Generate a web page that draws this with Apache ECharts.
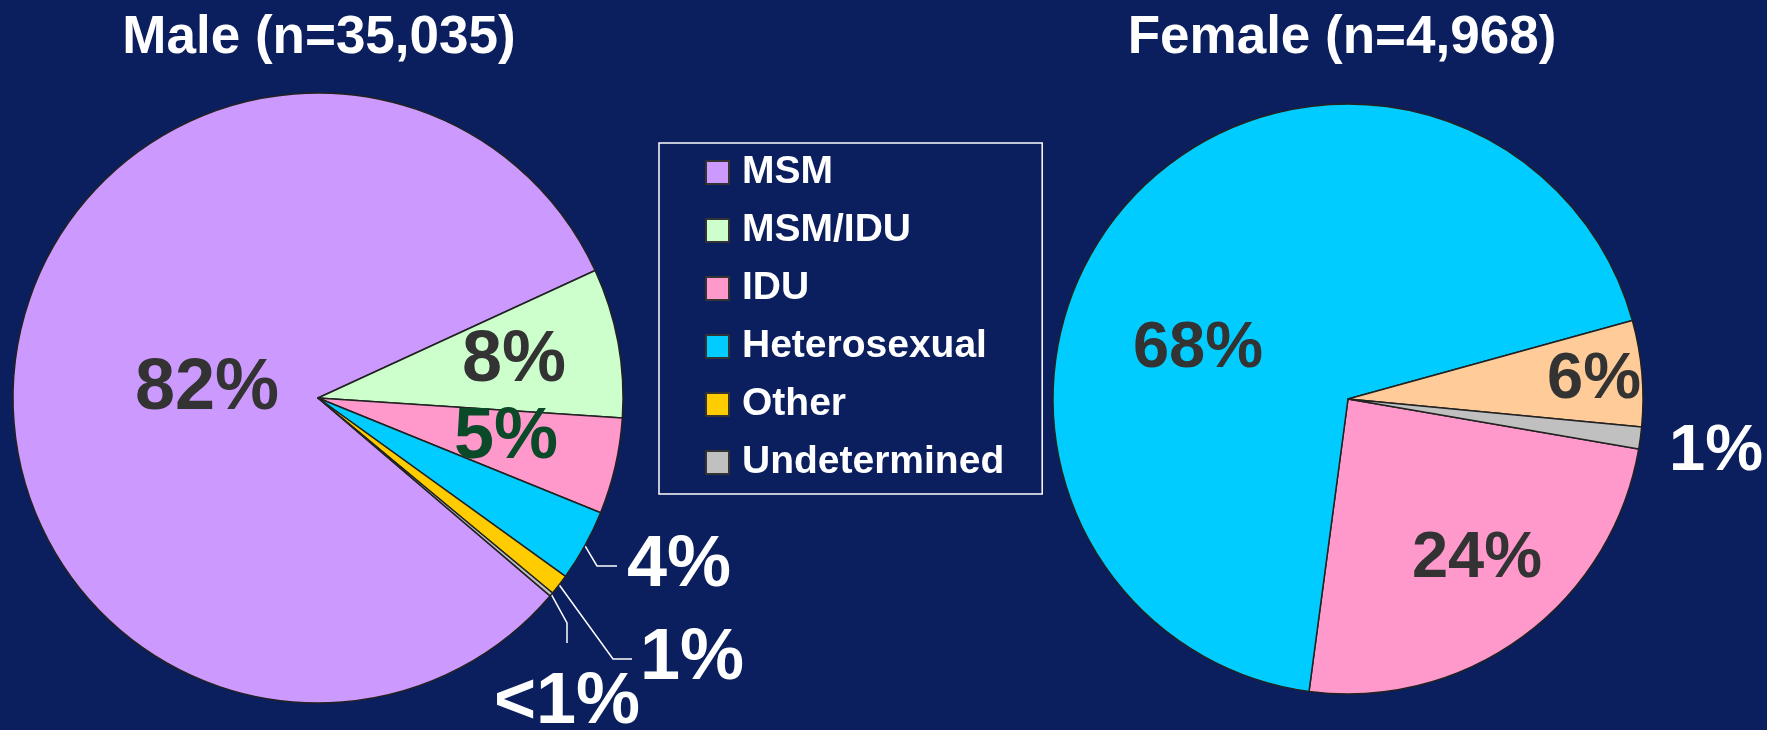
<!DOCTYPE html>
<html>
<head>
<meta charset="utf-8">
<script src="https://cdn.jsdelivr.net/npm/echarts@6/dist/echarts.min.js"></script>
<style>
html,body{margin:0;padding:0;background:#0B1F5E;}
#c{width:1767px;height:730px;}
</style>
</head>
<body>
<div id="c"></div>
<script>
// ---- data ----
const categories = ['MSM', 'MSM/IDU', 'IDU', 'Heterosexual', 'Other', 'Undetermined'];
const maleValues = [81.9, 7.9, 5.1, 3.8, 1.1, 0.2];
const maleLabels = ['82%', '8%', '5%', '4%', '1%', '<1%'];
const femaleCategories = ['IDU', 'Heterosexual', 'Other', 'Undetermined'];
const femaleValues = [24.4, 68.6, 5.8, 1.2];
const femaleLabels = ['24%', '68%', '6%', '1%'];
const titles = ['Male (n=35,035)', 'Female (n=4,968)'];

// ---- styles ----
const FONT = '"Liberation Sans", Arial, Helvetica, sans-serif';
const maleColors = {
  'MSM': '#CC99FF', 'MSM/IDU': '#CCFFCC', 'IDU': '#FF99CC',
  'Heterosexual': '#00CCFF', 'Other': '#FFCC00', 'Undetermined': '#C0C0C0'
};
const femaleColors = {
  'IDU': '#FF99CC', 'Heterosexual': '#00CCFF', 'Other': '#FFCC99', 'Undetermined': '#C0C0C0'
};
const maleLabelPlace = [
  {x: 207, y: 389},
  {x: 514, y: 361},
  {x: 506, y: 438, color: '#0A4A28'},
  {x: 617, y: 566, align: 'left', outside: true, padding: [0, 0, 0, 10], len2: 20, color: '#fff'},
  {x: 632, y: 659, align: 'left', outside: true, padding: [0, 0, 0, 8], len2: 19, color: '#fff'},
  {x: 567, y: 643, va: 'top', outside: true, padding: [24, 0, 0, 0], len2: 20, color: '#fff'}
];
const femaleLabelPlace = [
  {x: 1477, y: 559},
  {x: 1198, y: 349},
  {x: 1594, y: 380},
  {x: 1716, y: 452, outside: true, noLine: true, color: '#fff'}
];

function buildData(names, values, labels, colors, place) {
  return names.map((name, i) => {
    const p = place[i];
    const item = {
      name: name,
      value: values[i],
      itemStyle: {color: colors[name]},
      label: {
        formatter: labels[i],
        position: p.outside ? 'outside' : 'inside',
        color: p.color || '#333333'
      },
      labelLine: {show: false}
    };
    if (p.padding) item.label.padding = p.padding;
    if (p.outside && !p.noLine) {
      item.labelLine = {show: true, length: 10, length2: p.len2, lineStyle: {color: '#ffffff', width: 1.5}};
    }
    return item;
  });
}

function layoutFn(place) {
  return function (params) {
    const p = place[params.dataIndex];
    return {x: p.x, y: p.y, align: p.align || 'center', verticalAlign: p.va || 'middle'};
  };
}

const maleLabel = {
  show: true, fontFamily: FONT, fontWeight: 'bold', fontSize: 72, lineHeight: 72, color: '#333333'
};
const femaleLabel = {
  show: true, fontFamily: FONT, fontWeight: 'bold', fontSize: 65, lineHeight: 65, color: '#333333'
};

const titleStyle = {color: '#ffffff', fontSize: 53, lineHeight: 53, fontWeight: 'bold', fontFamily: FONT};

const chart = echarts.init(document.getElementById('c'), null, {renderer: 'canvas'});
chart.setOption({
  backgroundColor: '#0B1F5E',
  animation: false,
  title: [
    {text: titles[0], left: 319, top: 38, textAlign: 'center', textVerticalAlign: 'middle', padding: 0, textStyle: titleStyle},
    {text: titles[1], left: 1342, top: 38, textAlign: 'center', textVerticalAlign: 'middle', padding: 0, textStyle: titleStyle}
  ],
  legend: {
    data: categories,
    orient: 'vertical',
    left: 659, top: 143,
    padding: [10, 38, 12, 46],
    itemWidth: 23, itemHeight: 23, itemGap: 19,
    icon: 'rect',
    borderColor: '#ffffff', borderWidth: 1.5,
    selectedMode: false,
    itemStyle: {borderColor: '#333333', borderWidth: 2},
    textStyle: {color: '#ffffff', fontSize: 39, lineHeight: 39, fontWeight: 'bold', fontFamily: FONT, padding: [0, 0, 0, 8]}
  },
  series: [
    {
      type: 'pie', name: 'Male', center: [318, 398], radius: 305,
      startAngle: -40.46, clockwise: true, avoidLabelOverlap: false, silent: true,
      itemStyle: {borderColor: '#222222', borderWidth: 1.5},
      label: maleLabel,
      labelLine: {show: false},
      emphasis: {disabled: true},
      labelLayout: layoutFn(maleLabelPlace),
      data: buildData(categories, maleValues, maleLabels, maleColors, maleLabelPlace)
    },
    {
      type: 'pie', name: 'Female', center: [1348, 399], radius: 295,
      startAngle: -9.75, clockwise: true, avoidLabelOverlap: false, silent: true,
      itemStyle: {borderColor: '#222222', borderWidth: 1.5},
      label: femaleLabel,
      labelLine: {show: false},
      emphasis: {disabled: true},
      labelLayout: layoutFn(femaleLabelPlace),
      data: buildData(femaleCategories, femaleValues, femaleLabels, femaleColors, femaleLabelPlace)
    }
  ]
});
</script>
</body>
</html>
